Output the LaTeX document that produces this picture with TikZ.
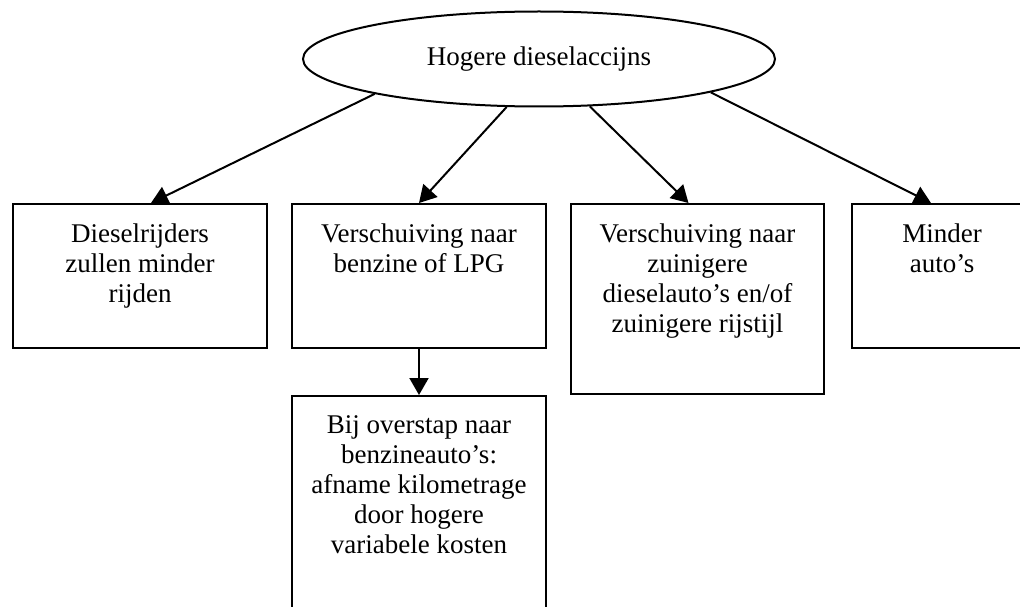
\documentclass[tikz,border=0pt]{standalone}
\usepackage{fontspec}
\setmainfont{Liberation Serif}
\usetikzlibrary{shapes.geometric}
\usetikzlibrary{arrows.meta}

\begin{document}
\begin{tikzpicture}[
    x=1pt, y=-1pt,
    line width=2pt,
    font=\fontsize{27}{30}\selectfont
]
\tikzset{
    oorzaak/.style = {ellipse, draw=black, inner sep=0pt, minimum width=472pt, minimum height=95pt},
    gevolg/.style = {rectangle, draw=black, inner sep=0pt, anchor=north west, minimum width=254pt},
    tekst/.style = {anchor=north, align=center, inner sep=0pt, yshift=-20pt},
    pijl/.style = {-{Triangle[length=17pt,width=19pt]}}
}
\useasboundingbox (0,0) rectangle (1020,607);
\clip (0,0) rectangle (1020,607);
\node[oorzaak, label={[anchor=base, inner sep=0pt]center:Hogere dieselaccijns}] at (539,59) (accijns) {};
\node[gevolg, minimum height=144pt, label={[tekst]north:{Dieselrijders\\zullen minder\\rijden}}] at (12,203) (minder) {};
\node[gevolg, minimum height=144pt, label={[tekst]north:{Verschuiving naar\\benzine of LPG}}] at (291,203) (benzine) {};
\node[gevolg, minimum width=253pt, minimum height=190pt, label={[tekst]north:{Verschuiving naar\\zuinigere\\dieselauto’s en/of\\zuinigere rijstijl}}] at (570,203) (zuinig) {};
\node[gevolg, minimum width=180pt, minimum height=144pt, label={[tekst]north:{Minder\\auto’s}}] at (851,203) (autos) {};
\node[gevolg, minimum height=240pt, label={[tekst]north:{Bij overstap naar\\benzineauto’s:\\afname kilometrage\\door hogere\\variabele kosten}}] at (291,395) (overstap) {};
\draw[pijl] (accijns.192) -- ([xshift=11pt]minder.north);
\draw[pijl] (accijns.236) -- (benzine.north);
\draw[pijl] (accijns.317) -- ([xshift=-9pt]zuinig.north);
\draw[pijl] (accijns.349) -- ([xshift=-11pt]autos.north);
\draw[pijl] (benzine.south) -- (overstap.north);
\end{tikzpicture}
\end{document}
